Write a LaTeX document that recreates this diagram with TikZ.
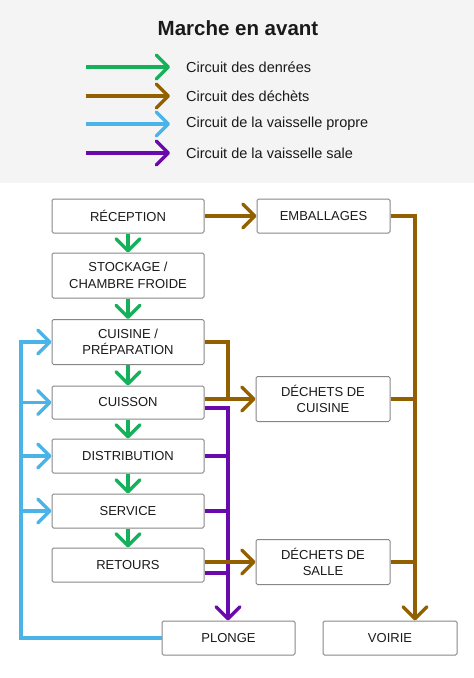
\documentclass[tikz,border=0pt]{standalone}
\usepackage{fontspec}
\setmainfont{Liberation Sans}
\usetikzlibrary{arrows.meta}
\definecolor{cgreen}{RGB}{20,176,90}
\definecolor{cbrown}{RGB}{147,96,0}
\definecolor{cblue}{RGB}{74,180,232}
\definecolor{cpurple}{RGB}{106,10,172}
\definecolor{panel}{RGB}{244,244,244}
\definecolor{boxline}{RGB}{135,135,135}
\definecolor{ink}{RGB}{26,26,26}
\tikzset{
  box/.style={draw=boxline, line width=1pt, rounded corners=1.5pt, fill=white,
    inner sep=0pt, align=center, text=ink, font=\fontsize{13}{16.5}\selectfont},
  conn/.style={line width=3.4pt, line cap=butt},
  arr/.style={conn, -{Straight Barb[length=12pt,width=24pt,line width=3.4pt,round]}},
  legtext/.style={anchor=west, text=ink, font=\fontsize{14.5}{17}\selectfont, inner sep=0pt},
}
\begin{document}
\begin{tikzpicture}[x=1pt,y=-1pt]
\useasboundingbox (0,0) rectangle (474,678);
\fill[panel] (0,0) rectangle (474,183);
\node[text=ink, font=\bfseries\fontsize{20.5}{24}\selectfont] (title) at (238,28) {Marche en avant};
% boxes
\node[box, minimum width=152pt, minimum height=34pt] (rec) at (128,216) {RÉCEPTION};
\node[box, minimum width=133pt, minimum height=34pt] (emb) at (323.5,216) {EMBALLAGES};
\node[box, minimum width=152pt, minimum height=45pt] (sto) at (128,275.5) {STOCKAGE /\\CHAMBRE FROIDE};
\node[box, minimum width=152pt, minimum height=45pt] (cui) at (128,342) {CUISINE /\\PRÉPARATION};
\node[box, minimum width=152pt, minimum height=33pt] (cuis) at (128,402.5) {CUISSON};
\node[box, minimum width=152pt, minimum height=34pt] (dist) at (128,456) {DISTRIBUTION};
\node[box, minimum width=152pt, minimum height=34pt] (serv) at (128,511) {SERVICE};
\node[box, minimum width=152pt, minimum height=34pt] (ret) at (128,565) {RETOURS};
\node[box, minimum width=134pt, minimum height=45pt] (dc) at (323,399) {DÉCHETS DE\\CUISINE};
\node[box, minimum width=134pt, minimum height=45pt] (ds) at (323,562) {DÉCHETS DE\\SALLE};
\node[box, minimum width=133pt, minimum height=34pt] (plo) at (228.5,638) {PLONGE};
\node[box, minimum width=134pt, minimum height=34pt] (voi) at (390,638) {VOIRIE};
\coordinate (bx) at (415,0);
\coordinate (px) at (228,0);
\coordinate (bl) at (21,0);
\coordinate (cuisP) at ([yshift=-5.5pt]cuis.east);
\coordinate (retP) at ([yshift=-8pt]ret.east);
% brown (part)
\draw[conn, cbrown] (dc.east) -- (bx |- dc.east);
\draw[conn, cbrown] (ds.east) -- (bx |- ds.east);
\draw[conn, cbrown, line join=miter] (cui.east) -| (px |- dc.west);
\draw[arr, cbrown] (dc.west -| cuis.east) -- (dc.west);
\draw[arr, cbrown] (rec) -- (emb);
\draw[arr, cbrown, line join=miter] (emb.east) -| (bx |- voi.north);
% purple
\draw[arr, cpurple, line join=miter] (cuisP) -| (px |- plo.north);
\draw[conn, cpurple] (dist.east) -- (px |- dist.east);
\draw[conn, cpurple] (serv.east) -- (px |- serv.east);
\draw[conn, cpurple] (retP) -- (px |- retP);
\draw[arr, cbrown] (ds.west -| ret.east) -- (ds.west);
% blue
\draw[arr, cblue, line join=miter] (plo.west) -- (bl |- plo.west) -- (bl |- cui.west) -- (cui.west);
\draw[arr, cblue] (bl |- cuis.west) -- (cuis.west);
\draw[arr, cblue] (bl |- dist.west) -- (dist.west);
\draw[arr, cblue] (bl |- serv.west) -- (serv.west);
% green
\draw[arr, cgreen] (rec) -- (sto);
\draw[arr, cgreen] (sto) -- (cui);
\draw[arr, cgreen] (cui) -- (cuis);
\draw[arr, cgreen] (cuis) -- (dist);
\draw[arr, cgreen] (dist) -- (serv);
\draw[arr, cgreen] (serv) -- (ret);
% legend
\coordinate (l1a) at (86,67);  \coordinate (l1b) at (170,67);
\coordinate (l2a) at (86,96);  \coordinate (l2b) at (170,96);
\coordinate (l3a) at (86,124); \coordinate (l3b) at (170,124);
\coordinate (l4a) at (86,153); \coordinate (l4b) at (170,153);
\draw[arr, cgreen] (l1a) -- (l1b);
\draw[arr, cbrown] (l2a) -- (l2b);
\draw[arr, cblue] (l3a) -- (l3b);
\draw[arr, cpurple] (l4a) -- (l4b);
\node[legtext] (t1) at (186,67) {Circuit des denrées};
\node[legtext] (t2) at (186,96) {Circuit des déchèts};
\node[legtext] (t3) at (186,124) {Circuit de la vaisselle propre};
\node[legtext] (t4) at (186,153) {Circuit de la vaisselle sale};
\end{tikzpicture}
\end{document}
